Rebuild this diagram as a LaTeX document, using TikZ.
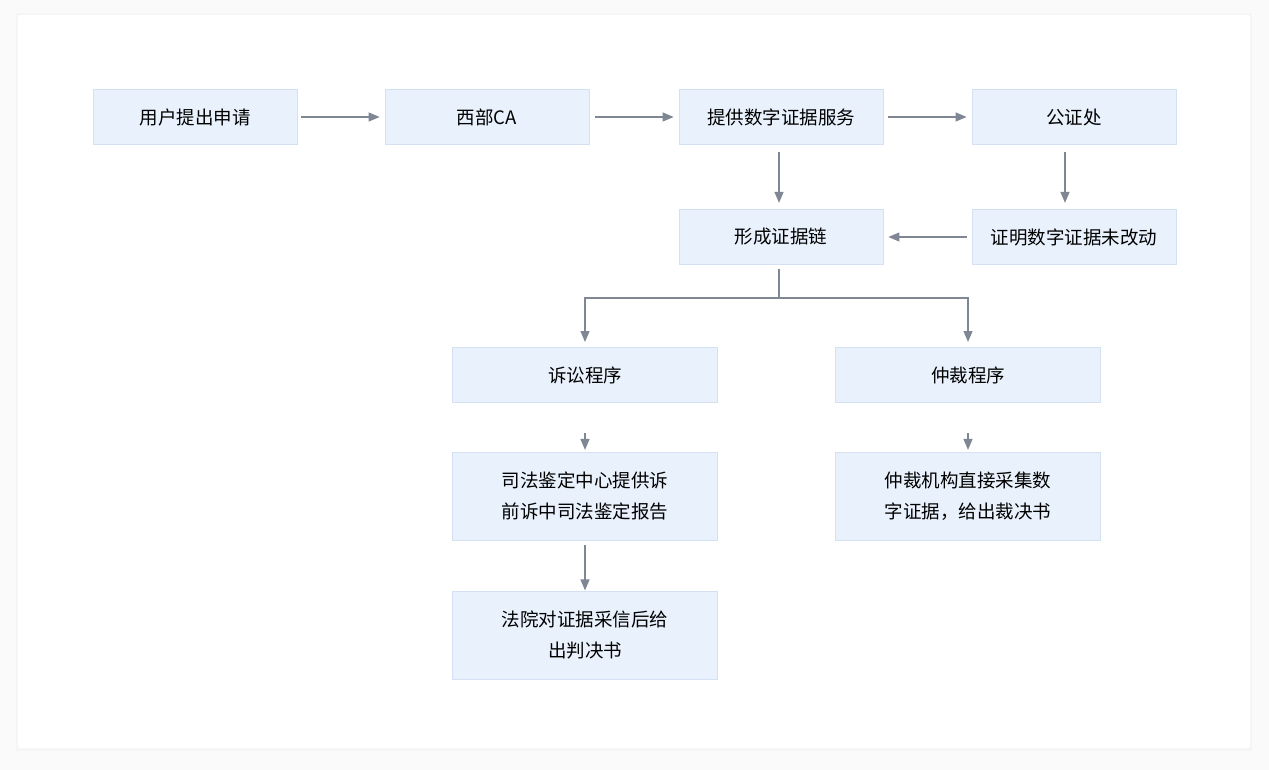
\documentclass[tikz,border=0pt]{standalone}
\usepackage{fontspec}
\setmainfont{Noto Sans CJK SC}
\usetikzlibrary{arrows.meta}
\definecolor{bx}{HTML}{E8F1FC}
\definecolor{bd}{HTML}{D3E1F2}
\definecolor{ar}{HTML}{7F8694}
\definecolor{bg}{HTML}{FAFAFB}
\begin{document}
\begin{tikzpicture}[x=1pt,y=-1pt,
 box/.style={draw=bd,fill=bx,line width=0.8pt,minimum height=55pt,inner sep=0pt,font=\fontsize{18.5}{31}\selectfont,align=center},
 ar/.style={draw=ar,line width=1.2pt,-{Triangle[length=11pt,width=9pt]}}]
\fill[bg] (0,0) rectangle (1269,770);
\useasboundingbox (0,0) rectangle (1269,770);
\fill[black!4] (16,13) rectangle (1252,751);
\fill[white,rounded corners=2pt] (18,15) rectangle (1250,748);
\node[box,minimum width=204pt] (a) at (195,117) {用户提出申请};
\node[box,minimum width=204pt] (b) at (487,117) {西部CA};
\node[box,minimum width=204pt] (c) at (781,117) {提供数字证据服务};
\node[box,minimum width=204pt] (d) at (1074,117) {公证处};
\node[box,minimum width=204pt] (e) at (781,237) {形成证据链};
\node[box,minimum width=204pt] (f) at (1074,237) {证明数字证据未改动};
\node[box,minimum width=265pt] (g) at (585,375) {诉讼程序};
\node[box,minimum width=265pt] (h) at (968,375) {仲裁程序};
\node[box,minimum width=265pt,minimum height=88pt] (i) at (585,496) {司法鉴定中心提供诉\\前诉中司法鉴定报告};
\node[box,minimum width=265pt,minimum height=88pt] (j) at (968,496) {仲裁机构直接采集数\\字证据，给出裁决书};
\node[box,minimum width=265pt,minimum height=88pt] (k) at (585,635) {法院对证据采信后给\\出判决书};
\draw[ar] (a.east) ++(4,0) -- ([xshift=-5pt]b.west);
\draw[ar] (b.east) ++(6,0) -- ([xshift=-5pt]c.west);
\draw[ar] (c.east) ++(5,0) -- ([xshift=-5pt]d.west);
\draw[ar] (c.south) ++(-2,7) -- ++(0,51);
\draw[ar] (d.south) ++(-9,7) -- ++(0,51);
\draw[ar] (f.west) ++(-5,0) -- ([xshift=5pt]e.east);
\coordinate (m) at (779,298);
\draw[draw=ar,line width=1.2pt] (e.south) ++(-2,4) -- (m);
\draw[ar] (m) -| (585,342);
\draw[ar] (m) -| (968,342);
\draw[ar] (g.south) ++(0,30) -- ++(0,17);
\draw[ar] (h.south) ++(0,30) -- ++(0,17);
\draw[ar] (i.south) ++(0,5) -- ++(0,45);
\end{tikzpicture}
\end{document}
